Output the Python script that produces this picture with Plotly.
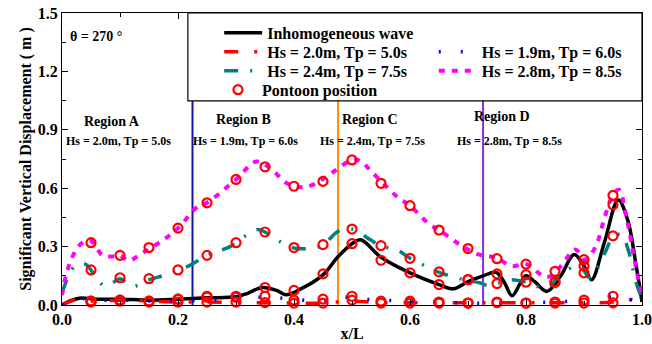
import plotly.graph_objects as go

# ---------------- data ----------------
k_x = [0, 0.015, 0.03, 0.06, 0.1, 0.15, 0.2, 0.25, 0.3, 0.32, 0.345, 0.37, 0.386, 0.41, 0.45,
       0.475, 0.5, 0.515, 0.55, 0.6, 0.65, 0.675, 0.7, 0.725, 0.748, 0.762, 0.776, 0.79, 0.8,
       0.815, 0.836, 0.86, 0.883, 0.9, 0.913, 0.935, 0.959, 0.975, 0.99, 1.0]
k_y = [0.0, 0.022, 0.035, 0.03, 0.03, 0.025, 0.03, 0.037, 0.042, 0.06, 0.09, 0.075, 0.053, 0.08, 0.155,
       0.245, 0.315, 0.335, 0.245, 0.165, 0.105, 0.083, 0.12, 0.148, 0.168, 0.12, 0.047, 0.11, 0.15,
       0.12, 0.07, 0.15, 0.26, 0.2, 0.13, 0.32, 0.54, 0.44, 0.2, 0.015]

r_x = [0, 0.015, 0.03, 0.05, 0.1, 0.15, 0.2, 0.25, 0.3, 0.35, 0.4, 0.45, 0.5, 0.55, 0.6, 0.65,
       0.7, 0.75, 0.8, 0.85, 0.9, 0.95, 0.975, 1.0]
r_y = [0.0, 0.02, 0.03, 0.02, 0.025, 0.02, 0.015, 0.015, 0.012, 0.012, 0.01, 0.01, 0.02, 0.012,
       0.012, 0.012, 0.012, 0.012, 0.012, 0.012, 0.012, 0.015, 0.03, 0.0]

b_x = [0, 0.03, 0.05, 0.1, 0.15, 0.2, 0.25, 0.3, 0.35, 0.4, 0.45, 0.48, 0.5, 0.55, 0.6, 0.65,
       0.7, 0.75, 0.8, 0.85, 0.9, 0.95, 0.97, 1.0]
b_y = [0.0, 0.035, 0.025, 0.025, 0.02, 0.02, 0.025, 0.035, 0.04, 0.03, 0.02, 0.045, 0.035, 0.025,
       0.02, 0.015, 0.01, 0.01, 0.015, 0.015, 0.025, 0.045, 0.04, 0.0]

t_x = [0, 0.022, 0.04, 0.055, 0.072, 0.085, 0.1, 0.12, 0.15, 0.18, 0.2, 0.218, 0.25, 0.29, 0.3,
       0.336, 0.35, 0.37, 0.4, 0.433, 0.45, 0.476, 0.5, 0.531, 0.55, 0.577, 0.6, 0.634, 0.65, 0.68,
       0.7, 0.72, 0.735, 0.75, 0.775, 0.8, 0.836, 0.862, 0.893, 0.91, 0.936, 0.95, 0.965, 0.976,
       0.99, 1.0]
t_y = [0.06, 0.2, 0.21, 0.16, 0.1, 0.11, 0.135, 0.095, 0.13, 0.156, 0.18, 0.2, 0.255, 0.3, 0.32,
       0.387, 0.375, 0.336, 0.293, 0.293, 0.307, 0.378, 0.39, 0.336, 0.302, 0.285, 0.24, 0.19, 0.168,
       0.14, 0.125, 0.114, 0.1, 0.11, 0.13, 0.117, 0.088, 0.165, 0.2, 0.14, 0.268, 0.35, 0.362, 0.285,
       0.114, 0.03]

m_x = [0, 0.008, 0.02, 0.035, 0.05, 0.07, 0.09, 0.1, 0.115, 0.14, 0.175, 0.2, 0.232, 0.25, 0.3,
       0.335, 0.36, 0.387, 0.41, 0.433, 0.465, 0.5, 0.514, 0.536, 0.577, 0.6, 0.634, 0.65, 0.686,
       0.718, 0.749, 0.775, 0.8, 0.836, 0.86, 0.885, 0.902, 0.92, 0.936, 0.95, 0.96, 0.974, 0.988, 1.0]
m_y = [0.05, 0.165, 0.26, 0.32, 0.33, 0.255, 0.25, 0.255, 0.228, 0.27, 0.335, 0.395, 0.5, 0.525, 0.645,
       0.737, 0.7, 0.627, 0.605, 0.618, 0.678, 0.745, 0.74, 0.678, 0.558, 0.51, 0.413, 0.385, 0.31,
       0.26, 0.242, 0.2, 0.21, 0.142, 0.2, 0.285, 0.233, 0.3, 0.455, 0.565, 0.592, 0.44, 0.216, 0.045]

pontoon_x = [0.05, 0.10, 0.15, 0.20, 0.25, 0.30, 0.35, 0.40, 0.45, 0.50,
             0.55, 0.60, 0.65, 0.70, 0.75, 0.80, 0.85, 0.90, 0.95]
pont_k = [0.02, 0.025, 0.02, 0.03, 0.045, 0.045, 0.09, 0.075, 0.16, 0.315,
          0.23, 0.165, 0.105, 0.13, 0.16, 0.156, 0.12, 0.2, 0.515]
pont_t = [0.18, 0.14, 0.135, 0.18, 0.255, 0.32, 0.375, 0.295, 0.31, 0.39,
          0.305, 0.24, 0.17, 0.13, 0.11, 0.117, 0.115, 0.165, 0.355]
pont_m = [0.32, 0.255, 0.295, 0.395, 0.525, 0.645, 0.71, 0.61, 0.635, 0.745,
          0.625, 0.51, 0.385, 0.29, 0.238, 0.21, 0.173, 0.233, 0.563]
pont_b = [0.02, 0.025, 0.02, 0.03, 0.04, 0.04, 0.045, 0.025, 0.03, 0.045,
          0.02, 0.02, 0.015, 0.01, 0.015, 0.01, 0.015, 0.025, 0.045]
pont_r = [0.015, 0.02, 0.015, 0.015, 0.015, 0.015, 0.012, 0.01, 0.01, 0.025,
          0.01, 0.01, 0.01, 0.01, 0.012, 0.01, 0.01, 0.01, 0.011]

region_bounds = [0.225, 0.476, 0.726]
region_colors = ["#1414a0", "#ff8c00", "#8a2be2"]
region_names = ["Region A", "Region B", "Region C", "Region D"]
region_name_x = [0.087, 0.313, 0.531, 0.758]
region_name_y = [0.943, 0.955, 0.951, 0.968]
region_cond = ["Hs = 2.0m, Tp = 5.0s", "Hs = 1.9m, Tp = 6.0s",
               "Hs = 2.4m, Tp = 7.5s", "Hs = 2.8m, Tp = 8.5s"]
region_cond_x = [0.097, 0.317, 0.536, 0.771]
region_cond_y = [0.845, 0.845, 0.845, 0.845]

FONT = "Liberation Serif"

fig = go.Figure()

fig.add_trace(go.Scatter(x=k_x, y=k_y, mode="lines", name="Inhomogeneous wave",
                         line=dict(color="black", width=3.5, shape="spline"),
                         legend="legend"))
fig.add_trace(go.Scatter(x=r_x, y=r_y, mode="lines", name="Hs = 2.0m, Tp = 5.0s",
                         line=dict(color="#ff0000", width=3.5, shape="spline",
                                   dash="14px,16px,3px,16px"),
                         legend="legend2"))
fig.add_trace(go.Scatter(x=b_x, y=b_y, mode="lines", name="Hs = 1.9m, Tp = 6.0s",
                         line=dict(color="#0000ff", width=3.5, shape="spline",
                                   dash="2px,20px"),
                         legend="legend3"))
fig.add_trace(go.Scatter(x=t_x, y=t_y, mode="lines", name="Hs = 2.4m, Tp = 7.5s",
                         line=dict(color="#008080", width=3.5, shape="spline",
                                   dash="14px,12px,2px,12px"),
                         legend="legend4"))
fig.add_trace(go.Scatter(x=m_x, y=m_y, mode="lines", name="Hs = 2.8m, Tp = 8.5s",
                         line=dict(color="#ff00ff", width=4, shape="spline",
                                   dash="6px,7px"),
                         legend="legend5"))

px_all = pontoon_x * 5
py_all = pont_m + pont_t + pont_k + pont_b + pont_r
fig.add_trace(go.Scatter(x=px_all, y=py_all, mode="markers", name="Pontoon position",
                         marker=dict(symbol="circle-open", size=9, color="#ff0000",
                                     line=dict(width=2.2, color="#ff0000")),
                         cliponaxis=False, legend="legend6"))

shapes = []
for xb, c in zip(region_bounds, region_colors):
    shapes.append(dict(type="line", xref="x", yref="y", x0=xb, x1=xb, y0=0, y1=1.5,
                       line=dict(color=c, width=2), layer="below"))
# legend frame
shapes.append(dict(type="rect", xref="paper", yref="paper", x0=0.217, x1=1.0, y0=0.699, y1=1.0,
                   fillcolor="white", line=dict(color="black", width=1.2), layer="above"))

annotations = []
for name, x, y in zip(region_names, region_name_x, region_name_y):
    annotations.append(dict(x=x, y=y, xref="x", yref="y", text=name, showarrow=False,
                            font=dict(family=FONT, size=14, color="black", weight="bold")))
for name, x, y in zip(region_cond, region_cond_x, region_cond_y):
    annotations.append(dict(x=x, y=y, xref="x", yref="y", text=name, showarrow=False,
                            font=dict(family=FONT, size=12, color="black", weight="bold")))
annotations.append(dict(x=0.01, y=1.38, xref="x", yref="y", text="θ = 270 °", showarrow=False,
                        xanchor="left", font=dict(family=FONT, size=14, color="black", weight="bold")))


def leg(x, y):
    return dict(x=x, y=y, bgcolor="rgba(0,0,0,0)", borderwidth=0, itemwidth=38,
                font=dict(family=FONT, size=16, color="black", weight="bold"),
                xanchor="left", yanchor="middle", itemclick=False, itemdoubleclick=False)


row_y = [0.932, 0.867, 0.802, 0.737]
col_x = [0.271, 0.641]

fig.update_layout(
    width=652, height=344,
    margin=dict(l=62, r=10, t=13, b=38.5),
    paper_bgcolor="white", plot_bgcolor="white",
    font=dict(family=FONT, size=16, color="black", weight="bold"),
    showlegend=True,
    legend=leg(col_x[0], row_y[0]),
    legend2=leg(col_x[0], row_y[1]),
    legend3=leg(col_x[1], row_y[1]),
    legend4=leg(col_x[0], row_y[2]),
    legend5=leg(col_x[1], row_y[2]),
    legend6=leg(0.262, row_y[3]),
    shapes=shapes,
    annotations=annotations,
    xaxis=dict(range=[0, 1.0], dtick=0.2, tick0=0, tickformat=".1f", automargin=False,
               ticklabeloverflow="allow",
               showline=True, linecolor="black", linewidth=1.2, mirror="ticks",
               ticks="inside", ticklen=6, tickcolor="black", showgrid=False, zeroline=False,
               minor=dict(dtick=0.1, ticks="inside", ticklen=4, tickcolor="black"),
               title=dict(text="x/L", standoff=0,
                          font=dict(family=FONT, size=16, weight="bold")),
               tickfont=dict(family=FONT, size=16, weight="bold")),
    yaxis=dict(range=[0, 1.5], dtick=0.3, tick0=0, tickformat=".1f", automargin=False,
               ticklabeloverflow="allow",
               showline=True, linecolor="black", linewidth=1.2, mirror="ticks",
               ticks="inside", ticklen=6, tickcolor="black", showgrid=False, zeroline=False,
               minor=dict(dtick=0.15, ticks="inside", ticklen=4, tickcolor="black"),
               title=dict(text="Significant Vertical Displacement ( m )", standoff=2,
                          font=dict(family=FONT, size=16, weight="bold")),
               tickfont=dict(family=FONT, size=16, weight="bold")),
)

fig.write_html("out.html", config={"displayModeBar": False},
               post_script="document.body.style.margin='0px';")
